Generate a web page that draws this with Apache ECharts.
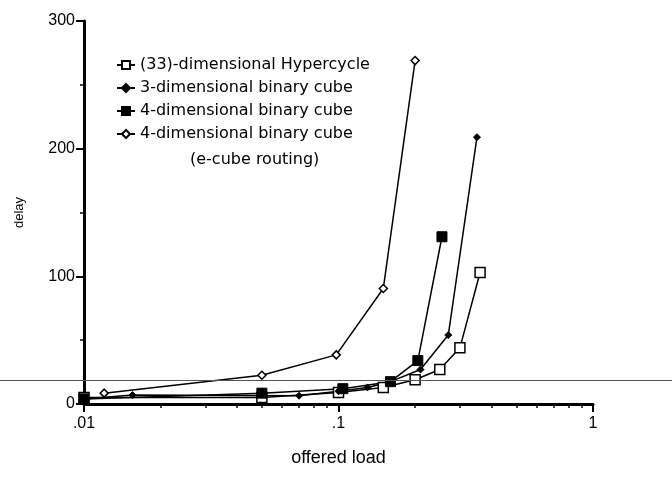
<!DOCTYPE html>
<html><head><meta charset="utf-8">
<script src="https://cdn.jsdelivr.net/npm/echarts@6/dist/echarts.min.js"></script>
<style>html,body{margin:0;padding:0;background:#fff}#c{width:672px;height:477px}</style>
</head><body><div id="c"></div>
<script>
// ---- data ----
const seriesNames = [
  '(33)-dimensional Hypercycle',
  '3-dimensional binary cube',
  '4-dimensional binary cube',
  '4-dimensional binary cube (e-cube routing)'
];
const hyperLoad  = [0.01, 0.05, 0.1, 0.15, 0.2, 0.25, 0.3, 0.36];
const hyperDelay = [5, 5, 9, 13, 19, 27, 44, 103];
const cube3Load  = [0.01, 0.0155, 0.07, 0.1, 0.13, 0.16, 0.21, 0.27, 0.35];
const cube3Delay = [4, 7, 6.5, 10, 13, 17.5, 27, 54, 209];
const cube4Load  = [0.01, 0.05, 0.104, 0.16, 0.205, 0.255];
const cube4Delay = [4, 8.5, 12, 17.5, 34, 131];
const ecubeLoad  = [0.012, 0.05, 0.098, 0.15, 0.2];
const ecubeDelay = [8.5, 22.5, 38.5, 90.5, 269];
const minorLoadTicks = [0.02,0.03,0.04,0.05,0.06,0.07,0.08,0.09,0.2,0.3,0.4,0.5,0.6,0.7,0.8,0.9];
const legendNote = '(e-cube routing)';

const pairs = (xs, ys) => xs.map((x, i) => [x, ys[i]]);
const labelFont = 'Liberation Sans, Arial, sans-serif';
const textFont = 'DejaVu Sans, sans-serif';

const base = {
  type: 'line',
  xAxisIndex: 0,
  lineStyle: { color: '#000', width: 1.5 },
  showSymbol: true,
  animation: false,
  z: 3
};

const chart = echarts.init(document.getElementById('c'), null, { renderer: 'canvas' });
chart.setOption({
  backgroundColor: '#fff',
  animation: false,
  title: {
    text: legendNote,
    left: 190, top: 152, padding: 0,
    textStyle: { fontFamily: textFont, fontSize: 16, fontWeight: 'normal', color: '#000' }
  },
  legend: {
    orient: 'vertical',
    left: 116, top: 57,
    padding: 0,
    itemWidth: 18, itemHeight: 10, itemGap: 7,
    data: seriesNames,
    formatter: n => n.replace(' ' + legendNote, ''),
    textStyle: { fontFamily: textFont, fontSize: 16, color: '#000' },
    selectedMode: false
  },
  grid: { left: 84, right: 79, top: 21, bottom: 73, containLabel: false },
  xAxis: [{
    type: 'log', logBase: 10, min: 0.01, max: 1,
    name: 'offered load', nameLocation: 'middle', nameGap: 45,
    nameTextStyle: { fontFamily: labelFont, fontSize: 18, color: '#000' },
    axisLine: { show: true, lineStyle: { color: '#000', width: 3 } },
    axisTick: { show: true, length: 8, lineStyle: { color: '#000', width: 2 } },
    axisLabel: {
      margin: 12, color: '#000', fontFamily: labelFont, fontSize: 16,
      formatter: v => String(+v.toPrecision(3)).replace(/^0\./, '.')
    },
    splitLine: { show: false }
  }, {
    type: 'log', logBase: 10, min: 0.01, max: 1, position: 'bottom',
    axisLine: { show: false },
    axisLabel: { show: false },
    splitLine: { show: false },
    axisTick: { show: true, customValues: minorLoadTicks, length: 4, lineStyle: { color: '#000', width: 1.5 } }
  }],
  yAxis: {
    type: 'value', min: 0, max: 300, interval: 100,
    name: 'delay', nameLocation: 'middle', nameGap: 58, nameRotate: 90,
    nameTextStyle: { fontFamily: labelFont, fontSize: 13, color: '#000' },
    axisLine: { show: true, lineStyle: { color: '#000', width: 3 } },
    axisTick: { show: true, length: 8, lineStyle: { color: '#000', width: 2 } },
    minorTick: { show: true, splitNumber: 2, length: 4, lineStyle: { color: '#000', width: 1.5 } },
    axisLabel: { margin: 9, color: '#000', fontFamily: labelFont, fontSize: 16 },
    splitLine: { show: false }
  },
  graphic: [{
    type: 'line', z: 100,
    shape: { x1: 0, y1: 380.5, x2: 672, y2: 380.5 },
    style: { stroke: '#555', lineWidth: 1 }
  }],
  series: [
    Object.assign({}, base, {
      name: seriesNames[0], data: pairs(hyperLoad, hyperDelay),
      symbol: 'rect', symbolSize: 10,
      itemStyle: { color: '#fff', borderColor: '#000', borderWidth: 1.5 }
    }),
    Object.assign({}, base, {
      name: seriesNames[1], data: pairs(cube3Load, cube3Delay),
      symbol: 'diamond', symbolSize: 7,
      itemStyle: { color: '#000', borderColor: '#000', borderWidth: 1 }
    }),
    Object.assign({}, base, {
      name: seriesNames[2], data: pairs(cube4Load, cube4Delay),
      symbol: 'rect', symbolSize: 10,
      itemStyle: { color: '#000', borderColor: '#000', borderWidth: 1 }
    }),
    Object.assign({}, base, {
      name: seriesNames[3], data: pairs(ecubeLoad, ecubeDelay),
      symbol: 'diamond', symbolSize: 8,
      itemStyle: { color: '#fff', borderColor: '#000', borderWidth: 1.5 }
    })
  ]
});
</script>
</body></html>
